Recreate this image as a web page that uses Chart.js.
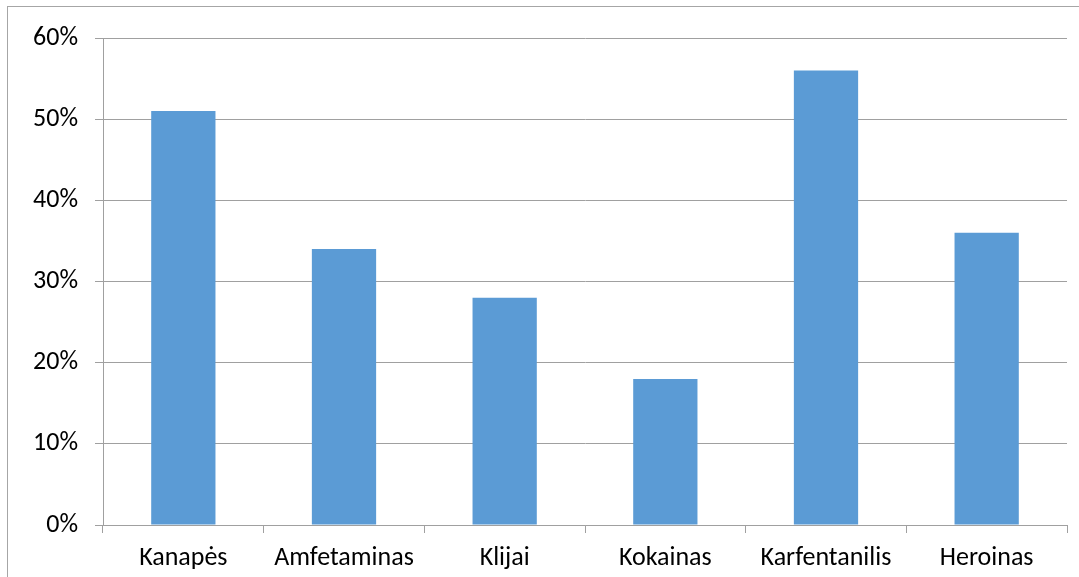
<!DOCTYPE html>
<html>
<head>
<meta charset="utf-8">
<script src="https://cdn.jsdelivr.net/npm/chart.js@4/dist/chart.umd.min.js"></script>
<style>
html,body{margin:0;padding:0;background:#fff;}
#wrap{position:relative;width:1079px;height:577px;overflow:hidden;}
#frame{position:absolute;left:7px;top:6px;width:1200px;height:700px;border:1px solid #a6a6a6;box-sizing:border-box;}
canvas{position:absolute;left:0;top:0;}
</style>
</head>
<body>
<div id="wrap">
<div id="frame"></div>
<canvas id="c" width="1079" height="577"></canvas>
</div>
<script>
const categories = ["Kanapės","Amfetaminas","Klijai","Kokainas","Karfentanilis","Heroinas"];
const values = [51, 34, 28, 18, 56, 36];
const yTicks = [0, 10, 20, 30, 40, 50, 60];

const FONT = "Carlito, Calibri, Lato, 'Liberation Sans', sans-serif";
const gridColor = "#a0a0a0";

new Chart(document.getElementById('c'), {
  type: 'bar',
  data: {
    labels: categories,
    datasets: [{
      data: values,
      backgroundColor: '#5B9BD5',
      borderWidth: 0,
      categoryPercentage: 1.0,
      barPercentage: 0.4
    }]
  },
  options: {
    responsive: false,
    animation: false,
    devicePixelRatio: 1,
    layout: { padding: { left: 0, right: 12, top: 38, bottom: 0 } },
    plugins: { legend: { display: false }, tooltip: { enabled: false } },
    scales: {
      x: {
        offset: true,
        grid: { offset: true, drawOnChartArea: false, drawTicks: true, tickLength: 8, color: gridColor, lineWidth: 1 },
        border: { display: true, color: gridColor, width: 1 },
        ticks: { color: '#000', font: { family: FONT, size: 26 }, padding: 10, maxRotation: 0, autoSkip: false },
        afterFit: s => { s.height = 52; }
      },
      y: {
        min: 0, max: 60,
        afterBuildTicks: s => { s.ticks = yTicks.map(v => ({ value: v })); },
        grid: { color: gridColor, lineWidth: 1, drawTicks: true, tickLength: 8 },
        border: { display: true, color: gridColor, width: 1 },
        ticks: { color: '#000', font: { family: FONT, size: 26 }, padding: 17, callback: v => v + '%' },
        afterFit: s => { s.width = 103; }
      }
    }
  }
});
</script>
</body>
</html>
